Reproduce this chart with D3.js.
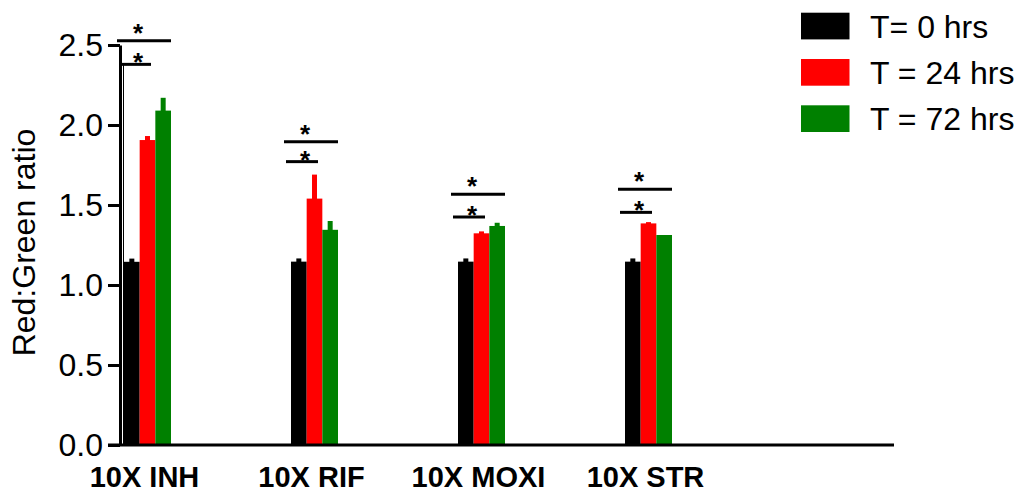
<!DOCTYPE html>
<html>
<head>
<meta charset="utf-8">
<script src="https://cdn.jsdelivr.net/npm/d3@7"></script>
<style>
  html, body { margin: 0; padding: 0; background: #fff; }
  svg { display: block; }
  text { font-family: "Liberation Sans", Arial, sans-serif; }
</style>
</head>
<body>
<svg id="chart" width="1026" height="493"></svg>
<script>
// ---- data ----
const categories = ["10X INH", "10X RIF", "10X MOXI", "10X STR"];
const seriesNames = ["T= 0 hrs", "T = 24 hrs", "T = 72 hrs"];
const seriesColors = ["#000000", "#ff0000", "#008000"];
const t0Values  = [1.145, 1.146, 1.146, 1.146];
const t24Values = [1.906, 1.54, 1.323, 1.385];
const t72Values = [2.09, 1.345, 1.369, 1.3125];
const t0Errors  = [0.02, 0.02, 0.02, 0.02];
const t24Errors = [0.025, 0.15, 0.012, 0.008];
const t72Errors = [0.08, 0.055, 0.02, 0.0];
const yTicks = [0, 0.5, 1.0, 1.5, 2.0, 2.5];
const yLabel = "Red:Green ratio";
// significance brackets: y levels (ratio units) of the long and short bracket per group
const sigUpper = [2.527, 1.896, 1.567, 1.598];
const sigLower = [2.379, 1.771, 1.425, 1.454];
const sigMark = "*";

const values = [t0Values, t24Values, t72Values];
const errors = [t0Errors, t24Errors, t72Errors];

// ---- layout ----
const svg = d3.select("#chart");
const y = d3.scaleLinear().domain([0, 2.5]).range([445, 45]);
const x0 = d3.scaleBand().domain(categories).range([124, 672])
  .paddingInner(120 / 167).paddingOuter(0).align(0);
const x1 = d3.scaleBand().domain(seriesNames).range([0, x0.bandwidth()]);

// bars
const barData = [];
categories.forEach((c, ci) => {
  seriesNames.forEach((s, si) => {
    barData.push({ cat: c, ser: s, v: values[si][ci], e: errors[si][ci], color: seriesColors[si] });
  });
});

const g = svg.append("g");
// error bars (drawn as narrow same-colour rectangles, upper only)
g.selectAll("rect.err").data(barData).join("rect")
  .attr("class", "err")
  .attr("x", d => x0(d.cat) + x1(d.ser) + x1.bandwidth() / 2 - 2.5)
  .attr("width", 5)
  .attr("y", d => y(d.v + d.e))
  .attr("height", d => y(d.v) - y(d.v + d.e) + 1)
  .attr("fill", d => d.color);

g.selectAll("rect.bar").data(barData).join("rect")
  .attr("class", "bar")
  .attr("x", d => x0(d.cat) + x1(d.ser))
  .attr("width", x1.bandwidth())
  .attr("y", d => y(d.v))
  .attr("height", d => y(0) - y(d.v))
  .attr("fill", d => d.color);

// thin artifact line next to y axis
svg.append("line")
  .attr("x1", 123.5).attr("x2", 123.5)
  .attr("y1", y(sigLower[0])).attr("y2", y(0))
  .attr("stroke", "#000").attr("stroke-width", 1);

// y axis
const yAxis = d3.axisLeft(y).tickValues(yTicks).tickFormat(d3.format(".1f"))
  .tickSize(12).tickSizeOuter(0).tickPadding(5);
const ya = svg.append("g").attr("transform", "translate(120,0)").call(yAxis);
ya.select(".domain").attr("stroke", "#000").attr("stroke-width", 3);
ya.selectAll(".tick line").attr("stroke", "#000").attr("stroke-width", 3);
ya.selectAll(".tick text")
  .attr("font-family", "Liberation Sans, Arial, sans-serif")
  .attr("font-size", 32).attr("fill", "#000");

// x axis line
svg.append("line")
  .attr("x1", 108).attr("x2", 894)
  .attr("y1", y(0)).attr("y2", y(0))
  .attr("stroke", "#000").attr("stroke-width", 3);

// x category labels
svg.selectAll("text.cat").data(categories).join("text")
  .attr("class", "cat")
  .attr("x", d => x0(d) + x0.bandwidth() / 2 - 3)
  .attr("y", 487)
  .attr("text-anchor", "middle")
  .attr("font-weight", "bold")
  .attr("font-size", 29)
  .text(d => d);

// y label
svg.append("text")
  .attr("transform", "translate(35,242.5) rotate(-90)")
  .attr("text-anchor", "middle")
  .attr("font-size", 32)
  .text(yLabel);

// significance brackets
const sig = svg.append("g");
categories.forEach((c, i) => {
  const gx = x0(c);
  const w = x0.bandwidth();
  sig.append("line").attr("x1", gx - 7).attr("x2", gx + w)
    .attr("y1", y(sigUpper[i])).attr("y2", y(sigUpper[i]))
    .attr("stroke", "#000").attr("stroke-width", 3);
  sig.append("line").attr("x1", gx - 5).attr("x2", gx + 27)
    .attr("y1", y(sigLower[i])).attr("y2", y(sigLower[i]))
    .attr("stroke", "#000").attr("stroke-width", 3);
  sig.append("text").attr("x", gx + 14).attr("y", y(sigUpper[i]) + 1)
    .attr("text-anchor", "middle").attr("font-size", 26).attr("font-weight", "bold").text(sigMark);
  sig.append("text").attr("x", gx + 14).attr("y", y(sigLower[i]) + 7)
    .attr("text-anchor", "middle").attr("font-size", 26).attr("font-weight", "bold").text(sigMark);
});

// legend
const leg = svg.append("g");
seriesNames.forEach((s, i) => {
  const ly = 12.7 + i * 46.3;
  leg.append("rect").attr("x", 801).attr("y", ly).attr("width", 48.5).attr("height", 26.7)
    .attr("fill", seriesColors[i]);
  leg.append("text").attr("x", 870).attr("y", ly + 13.35 + 11.5)
    .attr("font-size", 32).text(s);
});
</script>
</body>
</html>
